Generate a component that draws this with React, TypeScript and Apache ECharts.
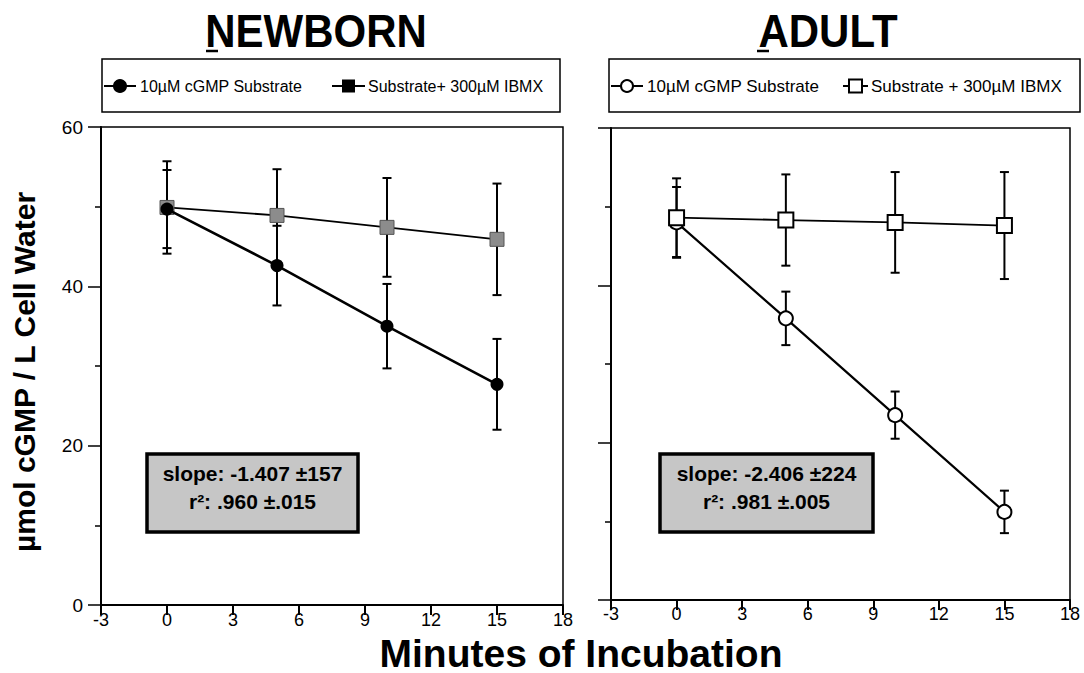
import React, { useEffect, useRef } from "react";
import * as echarts from "echarts";

// ---- data ----
const minutes = [0, 5, 10, 15];
const xTicks = [-3, 18, 3]; // min, max, step
const yTicks = [0, 60, 20]; // min, max, step (minor every 10)

const newbornSubstrate = [49.7, 42.6, 35.0, 27.7];
const newbornSubstrateErr = [4.9, 5.0, 5.3, 5.7];
const newbornIbmx = [49.9, 48.9, 47.4, 45.9];
const newbornIbmxErr = [5.8, 5.8, 6.2, 7.0];

const adultSubstrate = [48.0, 35.8, 23.5, 11.2];
const adultSubstrateErr = [4.5, 3.4, 3.0, 2.7];
const adultIbmx = [48.6, 48.3, 48.0, 47.6];
const adultIbmxErr = [5.0, 5.8, 6.4, 6.8];

const panelTitles = ["NEWBORN", "ADULT"];
const legendNewborn = ["10µM cGMP Substrate", "Substrate+ 300µM IBMX"];
const legendAdult = ["10µM cGMP Substrate", "Substrate + 300µM IBMX"];
const statsNewborn = ["slope: -1.407 ±157", "r²: .960 ±.015"];
const statsAdult = ["slope: -2.406 ±224", "r²: .981 ±.005"];
const yTitle = "µmol cGMP / L Cell Water";
const xTitle = "Minutes of Incubation";

const FONT = "'Liberation Sans', Arial, sans-serif";

function pts(vals: number[]) {
  return minutes.map((m, i) => [m, vals[i]]);
}
function errPts(vals: number[], errs: number[]) {
  return minutes.map((m, i) => [m, vals[i], errs[i]]);
}

function errorSeries(idx: number, vals: number[], errs: number[]) {
  return {
    type: "custom",
    xAxisIndex: idx,
    yAxisIndex: idx,
    z: 1,
    silent: true,
    encode: { x: 0, y: 1 },
    data: errPts(vals, errs),
    renderItem: (params: any, api: any) => {
      const x = api.value(0);
      const y = api.value(1);
      const e = api.value(2);
      const top = api.coord([x, y + e]);
      const bot = api.coord([x, y - e]);
      const hw = 4.5;
      const st = { stroke: "#000", lineWidth: 2 };
      return {
        type: "group",
        children: [
          { type: "line", shape: { x1: top[0], y1: top[1], x2: bot[0], y2: bot[1] }, style: st },
          { type: "line", shape: { x1: top[0] - hw, y1: top[1], x2: top[0] + hw, y2: top[1] }, style: st },
          { type: "line", shape: { x1: bot[0] - hw, y1: bot[1], x2: bot[0] + hw, y2: bot[1] }, style: st },
        ],
      };
    },
  };
}

function xAxis(idx: number, margin: number) {
  return {
    gridIndex: idx,
    type: "value",
    min: xTicks[0],
    max: xTicks[1],
    interval: xTicks[2],
    axisLine: { show: true, onZero: false, lineStyle: { color: "#000", width: 2 } },
    axisTick: { show: true, length: 10, lineStyle: { color: "#000", width: 2 } },
    axisLabel: { color: "#000", fontSize: 18, lineHeight: 18, fontFamily: FONT, margin },
    splitLine: { show: false },
  };
}

function yAxis(idx: number, showLabels: boolean) {
  return {
    gridIndex: idx,
    type: "value",
    min: yTicks[0],
    max: yTicks[1],
    interval: yTicks[2],
    axisLine: { show: true, onZero: false, lineStyle: { color: "#000", width: 2 } },
    axisTick: { show: true, length: 13, lineStyle: { color: "#000", width: 1.5 } },
    minorTick: { show: true, splitNumber: 2, length: 6, lineStyle: { color: "#000", width: 1.5 } },
    axisLabel: { show: showLabels, color: "#000", fontSize: 19, fontFamily: FONT, margin: 18 },
    splitLine: { show: false },
    minorSplitLine: { show: false },
  };
}

function legendGraphics(x0: number, x1: number, w: number, names: string[], hollow: boolean, boxRight: number, fs: number) {
  const y = 86;
  const iconW = 32;
  const lineSt = { stroke: "#000", lineWidth: 2 };
  const fill = hollow ? "#fff" : "#000";
  return [
    { type: "rect", shape: { x: x0 - 2, y: 59, width: boxRight - x0 + 2, height: 53 }, style: { fill: "none", stroke: "#000", lineWidth: 1.5 } },
    { type: "line", shape: { x1: x0, y1: y, x2: x0 + iconW, y2: y }, style: lineSt },
    { type: "circle", shape: { cx: x0 + iconW / 2, cy: y, r: 6 }, style: { fill, stroke: "#000", lineWidth: 2 } },
    { type: "text", x: x0 + iconW + 4, y, style: { text: names[0], font: `${fs}px ${FONT}`, fill: "#000", textVerticalAlign: "middle", textAlign: "left" } },
    { type: "line", shape: { x1: x1, y1: y, x2: x1 + w, y2: y }, style: lineSt },
    { type: "rect", shape: { x: x1 + w / 2 - 6.5, y: y - 6.5, width: 13, height: 13 }, style: { fill, stroke: "#000", lineWidth: hollow ? 2 : 0 } },
    { type: "text", x: x1 + w + 3, y, style: { text: names[1], font: `${fs}px ${FONT}`, fill: "#000", textVerticalAlign: "middle", textAlign: "left" } },
  ];
}

function statsBox(x: number, w: number, lines: string[]) {
  const cx = x + w / 2;
  return [
    { type: "rect", shape: { x, y: 454, width: w, height: 78 }, style: { fill: "#c6c6c6", stroke: "#000", lineWidth: 3.5 } },
    { type: "text", x: cx, y: 473, style: { text: lines[0], font: `bold 21px ${FONT}`, fill: "#000", textAlign: "center", textVerticalAlign: "middle" } },
    { type: "text", x: cx, y: 501, style: { text: lines[1], font: `bold 21px ${FONT}`, fill: "#000", textAlign: "center", textVerticalAlign: "middle" } },
  ];
}

export default function App() {
  const ref = useRef<HTMLDivElement>(null);

  useEffect(() => {
    if (!ref.current) return;
    const chart = echarts.init(ref.current, undefined, { renderer: "svg" });

    const option: any = {
      animation: false,
      backgroundColor: "#fff",
      grid: [
        { left: 101, top: 127, width: 462, height: 478, show: true, borderColor: "#000", borderWidth: 1.5, containLabel: false },
        { left: 611, top: 128, width: 459, height: 472, show: true, borderColor: "#000", borderWidth: 1.5, containLabel: false },
      ],
      xAxis: [xAxis(0, 6), xAxis(1, 5)],
      yAxis: [yAxis(0, true), yAxis(1, false)],
      series: [
        errorSeries(0, newbornSubstrate, newbornSubstrateErr),
        errorSeries(0, newbornIbmx, newbornIbmxErr),
        errorSeries(1, adultSubstrate, adultSubstrateErr),
        errorSeries(1, adultIbmx, adultIbmxErr),
        {
          name: legendNewborn[1],
          type: "line",
          xAxisIndex: 0,
          yAxisIndex: 0,
          z: 3,
          data: pts(newbornIbmx),
          symbol: "rect",
          symbolSize: 14,
          itemStyle: { color: "#8c8c8c", borderColor: "#555", borderWidth: 1, opacity: 1 },
          lineStyle: { color: "#000", width: 1.8 },
        },
        {
          name: legendNewborn[0],
          type: "line",
          xAxisIndex: 0,
          yAxisIndex: 0,
          z: 4,
          data: pts(newbornSubstrate),
          symbol: "circle",
          symbolSize: 13,
          itemStyle: { color: "#000", opacity: 1 },
          lineStyle: { color: "#000", width: 2.6 },
        },
        {
          name: legendAdult[0],
          type: "line",
          xAxisIndex: 1,
          yAxisIndex: 1,
          z: 3,
          data: pts(adultSubstrate),
          symbol: "circle",
          symbolSize: 14,
          itemStyle: { color: "#fff", borderColor: "#000", borderWidth: 2, opacity: 1 },
          lineStyle: { color: "#000", width: 2.2 },
        },
        {
          name: legendAdult[1],
          type: "line",
          xAxisIndex: 1,
          yAxisIndex: 1,
          z: 4,
          data: pts(adultIbmx),
          symbol: "rect",
          symbolSize: 15,
          itemStyle: { color: "#fff", borderColor: "#000", borderWidth: 2, opacity: 1 },
          lineStyle: { color: "#000", width: 1.8 },
        },
      ],
      graphic: [
        // panel titles
        { type: "text", x: 316, y: 31, scaleY: 1.12, style: { text: panelTitles[0], font: `bold 42px ${FONT}`, fill: "#000", textAlign: "center", textVerticalAlign: "middle" } },
        { type: "line", shape: { x1: 206, y1: 51, x2: 218, y2: 51 }, style: { stroke: "#000", lineWidth: 2.5 } },
        { type: "text", x: 828, y: 31, scaleY: 1.12, style: { text: panelTitles[1], font: `bold 42px ${FONT}`, fill: "#000", textAlign: "center", textVerticalAlign: "middle" } },
        { type: "line", shape: { x1: 757, y1: 51, x2: 769, y2: 51 }, style: { stroke: "#000", lineWidth: 2.5 } },
        // legends
        ...legendGraphics(104, 332, 33, legendNewborn, false, 560, 16),
        ...legendGraphics(611, 843, 25, legendAdult, true, 1080, 17),
        // stats boxes
        ...statsBox(147, 211, statsNewborn),
        ...statsBox(660, 213, statsAdult),
        // axis titles
        { type: "text", x: 24, y: 372, rotation: Math.PI / 2, style: { text: yTitle, font: `bold 30px ${FONT}`, fill: "#000", textAlign: "center", textVerticalAlign: "middle" } },
        { type: "text", x: 581, y: 653, style: { text: xTitle, font: `bold 39px ${FONT}`, fill: "#000", textAlign: "center", textVerticalAlign: "middle" } },
      ],
    };

    chart.setOption(option);
    return () => chart.dispose();
  }, []);

  return (
    <div
      ref={ref}
      style={{ position: "fixed", left: 0, top: 0, width: 1084, height: 673, background: "#fff" }}
    />
  );
}
